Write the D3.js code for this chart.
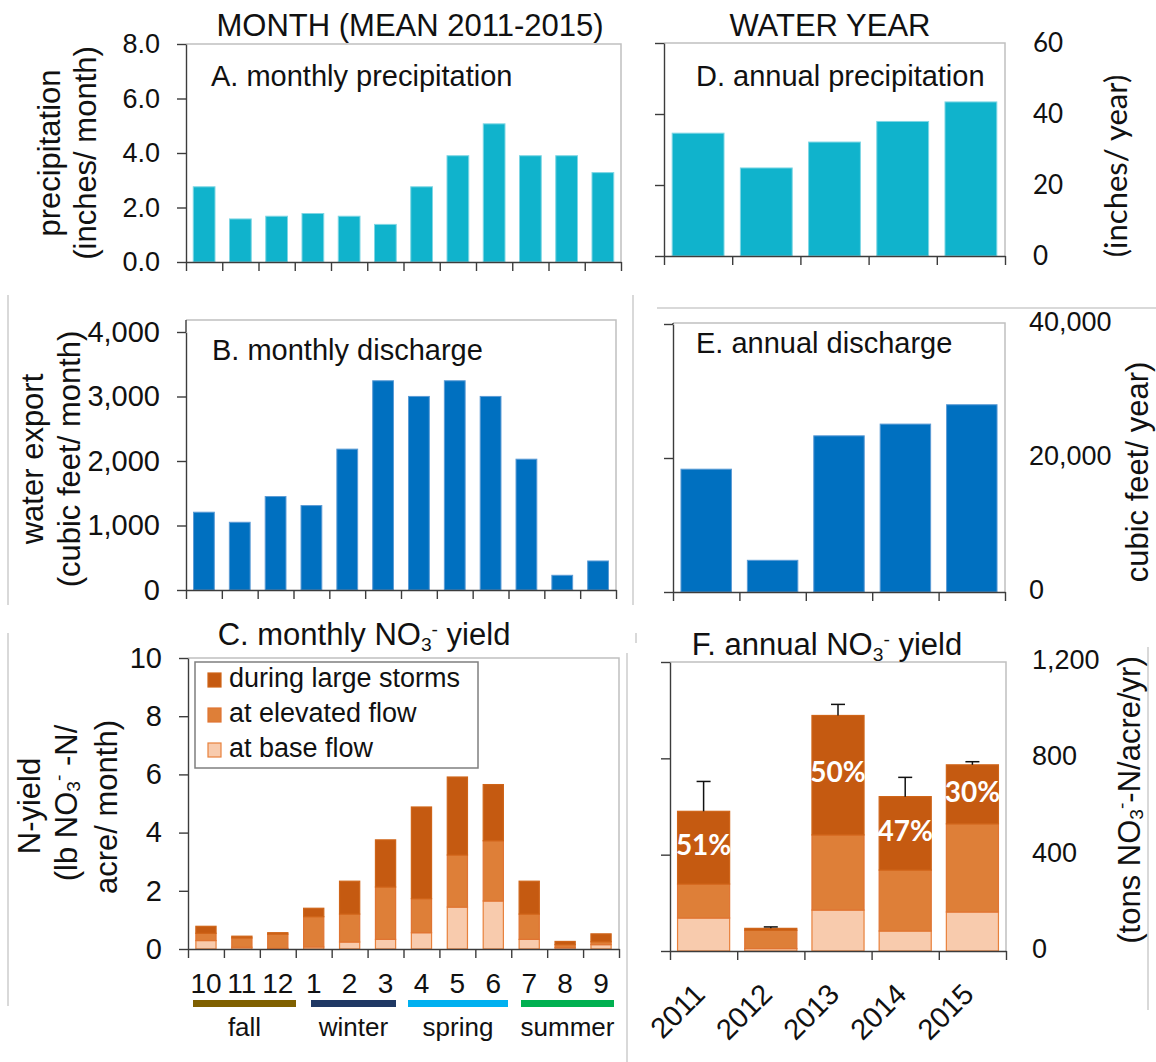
<!DOCTYPE html>
<html><head><meta charset="utf-8">
<script src="https://cdn.jsdelivr.net/npm/d3@7"></script>
<style>
body{margin:0;background:#fff}
svg{display:block}
text{font-family:"Liberation Sans",Arial,sans-serif;fill:#111}
</style>
</head><body>
<svg id="c" width="1156" height="1062"></svg>
<script>
// ---------- data ----------
const months = ["10","11","12","1","2","3","4","5","6","7","8","9"];
const monthlyPrecip = [2.76,1.58,1.68,1.78,1.68,1.38,2.76,3.90,5.07,3.90,3.90,3.28];
const monthlyDischarge = [1206,1050,1449,1309,2184,3244,3001,3244,3001,2028,228,450];
const monthlyBase = [0.29,0.06,0.02,0.07,0.24,0.33,0.56,1.44,1.65,0.33,0.05,0.15];
const monthlyElevated = [0.25,0.32,0.49,1.04,0.96,1.80,1.17,1.79,2.07,0.87,0.10,0.10];
const monthlyStorms = [0.24,0.06,0.05,0.29,1.13,1.62,3.15,2.68,1.93,1.13,0.11,0.27];
const seasons = ["fall","winter","spring","summer"];
const seasonColors = ["#7f6000","#1f3864","#00b0f0","#00b050"];
const years = ["2011","2012","2013","2014","2015"];
const annualPrecip = [34.6,24.8,32.1,37.9,43.4];
const annualDischarge = [18330,4730,23310,25060,27950];
const annualBase = [137,10,170,83,162];
const annualElevated = [141,76,312,253,366];
const annualStorms = [302,8,496,305,245];
const annualErrorTop = [704,100,1024,721,786];
const stormShare = ["51%","","50%","47%","30%"];
const seriesNames = ["during large storms","at elevated flow","at base flow"];
const stackColors = {base:"#f8cbad",elevated:"#de7f38",storms:"#c55a11"};
const ticksA = [0,2,4,6,8], ticksB=[0,1000,2000,3000,4000], ticksC=[0,2,4,6,8,10];
const ticksD = [0,20,40,60], ticksE=[0,20000,40000], ticksF=[0,400,800,1200];

const svg = d3.select("#c");
const AX = "#3c3c3c", FR = "#c0c0c0";

function makePanel(c){
  const x = d3.scaleBand().domain(c.cats).range([c.x0,c.x1]).paddingInner(c.pad).paddingOuter(c.pad/2);
  const y = d3.scaleLinear().domain([0,c.max]).range([c.y0,c.y1]);
  const g = svg.append("g");
  g.append("path").attr("d",`M${c.x0},${c.top}H${c.x1}V${c.y0}`)
    .attr("fill","none").attr("stroke",FR).attr("stroke-width",1.5);
  return {x,y,g};
}
function leftAxis(p,c,ticks,fmt,fs){
  const ax = d3.axisLeft(p.y).tickValues(ticks).tickSize(9).tickSizeOuter(0).tickPadding(c.tickPad||17)
    .tickFormat(fmt);
  const a = p.g.append("g").attr("transform",`translate(${c.x0},0)`).call(ax);
  a.selectAll("path,line").attr("stroke",AX).attr("stroke-width",1.4);
  a.selectAll("text").attr("font-size",fs).attr("fill","#111").style("font-family",'"Liberation Sans",Arial,sans-serif');
  if(c.top < c.y1){
    p.g.append("line").attr("x1",c.x0).attr("x2",c.x0).attr("y1",c.top).attr("y2",c.y1).attr("stroke",AX).attr("stroke-width",1.4);
  }
}
function bottomAxis(p,c){
  const n = c.cats.length;
  const xb = d3.scaleLinear().domain([0,n]).range([c.x0,c.x1]);
  const a = p.g.append("g").attr("transform",`translate(0,${c.y0})`)
    .call(d3.axisBottom(xb).tickValues(d3.range(n+1)).tickSize(c.tickLen||9).tickSizeOuter(0).tickFormat(""));
  a.selectAll("path,line").attr("stroke",AX).attr("stroke-width",1.4);
}
function bars(p,c,vals,fill,stroke){
  p.g.append("g").selectAll("rect").data(vals).join("rect")
    .attr("x",(d,i)=>p.x(c.cats[i])).attr("width",p.x.bandwidth())
    .attr("y",d=>p.y(d)).attr("height",d=>p.y(0)-p.y(d))
    .attr("fill",fill).attr("stroke",stroke).attr("stroke-width",1);
}
function rotText(x,y,str,fs,family){
  const t = svg.append("text").attr("transform",`translate(${x},${y}) rotate(-90)`)
    .attr("text-anchor","middle").attr("dominant-baseline","middle").attr("font-size",fs);
  if(family) t.style("font-family",family);
  return t;
}
function chemText(sel,pre,post,fs){
  sel.append("tspan").text(pre);
  sel.append("tspan").text("3").attr("font-size",fs*0.62).attr("dy",fs*0.2);
  sel.append("tspan").text("-").attr("font-size",fs*0.62).attr("dy",-fs*0.5);
  sel.append("tspan").text(post).attr("dy",fs*0.3);
}
function stacked(p,c,base,elev,storm){
  const rows = c.cats.map((k,i)=>({k,base:base[i],elevated:elev[i],storms:storm[i]}));
  const st = d3.stack().keys(["base","elevated","storms"])(rows);
  const strokes = {base:"#e8813c",elevated:"#e07432",storms:"#cf6418"};
  p.g.append("g").selectAll("g").data(st).join("g")
    .attr("fill",s=>stackColors[s.key]).attr("stroke",s=>strokes[s.key]).attr("stroke-width",1.2)
    .selectAll("rect").data(s=>s).join("rect")
    .attr("x",d=>p.x(d.data.k)+0.5).attr("width",p.x.bandwidth()-1)
    .attr("y",d=>p.y(d[1])).attr("height",d=>Math.max(0,p.y(d[0])-p.y(d[1])));
  return st;
}

// ---------- composite frame lines ----------
const gl = svg.append("g").attr("stroke","#cdcdcd").attr("stroke-width",1.5);
[[8,295,8,605],[8,633,8,1006],[633,295,633,605],[657,308,1156,308],[627,653,627,1062],[1148,647,1148,1010],[636,633,636,643]]
 .forEach(l=>gl.append("line").attr("x1",l[0]).attr("y1",l[1]).attr("x2",l[2]).attr("y2",l[3]));

// ---------- Panel A ----------
const cA = {cats:months,x0:186,x1:621,y0:262,y1:44,top:44,max:8,pad:0.4};
const pA = makePanel(cA);
bars(pA,cA,monthlyPrecip,"#10b3cc","#7fd6e4");
leftAxis(pA,cA,ticksA,d3.format(".1f"),27);
bottomAxis(pA,cA);
svg.append("text").attr("x",410).attr("y",36).attr("text-anchor","middle").attr("font-size",31).text("MONTH (MEAN 2011-2015)");
svg.append("text").attr("x",211).attr("y",86).attr("font-size",29).text("A. monthly precipitation");
rotText(52,153,"",31).text("precipitation");
rotText(88,153,"",31).text("(inches/ month)");

// ---------- Panel D ----------
const cD = {cats:years,x0:664,x1:1005,y0:256,y1:43,top:43,max:60,pad:0.24};
const pD = makePanel(cD);
bars(pD,cD,annualPrecip,"#10b3cc","#7fd6e4");
leftAxis(pD,cD,ticksD,()=>"",27);
bottomAxis(pD,cD);
pD.g.append("g").selectAll("text").data(ticksD).join("text")
  .attr("x",1033).attr("y",d=>pD.y(d)+2).attr("dominant-baseline","middle").attr("font-size",26)
  .style("font-family","Lato, 'Open Sans', sans-serif").text(d=>d);
svg.append("text").attr("x",830).attr("y",36).attr("text-anchor","middle").attr("font-size",31).text("WATER YEAR");
svg.append("text").attr("x",696).attr("y",86).attr("font-size",29).text("D. annual precipitation");
rotText(1119,166,"",31,"Lato, 'Open Sans', sans-serif").text("(inches/ year)");

// ---------- Panel B ----------
const cB = {cats:months,x0:186,x1:616,y0:590,y1:332,top:320,max:4000,pad:0.42};
const pB = makePanel(cB);
bars(pB,cB,monthlyDischarge,"#0070c0","#5b9bd5");
leftAxis(pB,cB,ticksB,d3.format(","),29);
bottomAxis(pB,cB);
svg.append("text").attr("x",212).attr("y",360).attr("font-size",29).text("B. monthly discharge");
rotText(35,459,"",31).text("water export");
rotText(72,459,"",31).text("(cubic feet/ month)");

// ---------- Panel E ----------
const cE = {cats:years,x0:673,x1:1005,y0:592,y1:324,top:323,max:40000,pad:0.24};
const pE = makePanel(cE);
bars(pE,cE,annualDischarge,"#0070c0","#5b9bd5");
leftAxis(pE,cE,ticksE,()=>"",27);
bottomAxis(pE,cE);
pE.g.append("g").selectAll("text").data(ticksE).join("text")
  .attr("x",1029).attr("y",d=>pE.y(d)).attr("dominant-baseline","middle").attr("font-size",27)
  .text(d=>d3.format(",")(d));
svg.append("text").attr("x",696).attr("y",353).attr("font-size",29).text("E. annual discharge");
rotText(1140,472,"",31).text("cubic feet/ year)");

// ---------- Panel C ----------
const cC = {cats:months,x0:188,x1:619,y0:949,y1:658,top:658,max:10,pad:0.41};
const pC = makePanel(cC);
stacked(pC,cC,monthlyBase,monthlyElevated,monthlyStorms);
leftAxis(pC,cC,ticksC,d3.format("d"),29);
bottomAxis(pC,cC);
chemText(svg.append("text").attr("x",364).attr("y",645).attr("text-anchor","middle").attr("font-size",31),"C. monthly NO"," yield",31);
rotText(32,806,"",31).text("N-yield");
chemText(rotText(69,803,"",31),"(lb NO"," -N/",31);
rotText(109,807,"",31).text("acre/ month)");
// legend
const lg = svg.append("g");
lg.append("rect").attr("x",195).attr("y",662).attr("width",283).attr("height",106)
  .attr("fill","#fff").attr("stroke","#7f7f7f").attr("stroke-width",1.5);
const legFill = [stackColors.storms,stackColors.elevated,stackColors.base];
const legStroke = ["#cf6418","#e07432","#e8813c"];
seriesNames.forEach((s,i)=>{
  const cy = 680 + i*35;
  lg.append("rect").attr("x",208).attr("y",cy-7).attr("width",13).attr("height",14)
    .attr("fill",legFill[i]).attr("stroke",legStroke[i]).attr("stroke-width",1.2);
  lg.append("text").attr("x",229).attr("y",cy).attr("dominant-baseline","middle").attr("font-size",27).text(s);
});
// month labels
svg.append("g").selectAll("text").data(months).join("text")
  .attr("x",d=>pC.x(d)+pC.x.bandwidth()/2).attr("y",986).attr("text-anchor","middle")
  .attr("dominant-baseline","middle").attr("font-size",28).text(d=>d);
// seasons
const segX = [[193,296],[311,396],[408,508],[521,614]];
seasons.forEach((s,i)=>{
  svg.append("rect").attr("x",segX[i][0]).attr("y",1000).attr("width",segX[i][1]-segX[i][0]).attr("height",7).attr("fill",seasonColors[i]);
  svg.append("text").attr("x",(segX[i][0]+segX[i][1])/2).attr("y",1036).attr("text-anchor","middle").attr("font-size",26).text(s);
});

// ---------- Panel F ----------
const cF = {cats:years,x0:670,x1:1006,y0:951,y1:662,top:662,max:1200,pad:0.21};
const pF = makePanel(cF);
const stF = stacked(pF,cF,annualBase,annualElevated,annualStorms);
leftAxis(pF,cF,ticksF,()=>"",27);
bottomAxis(pF,cF);
const totals = years.map((y,i)=>annualBase[i]+annualElevated[i]+annualStorms[i]);
const eg = pF.g.append("g").attr("stroke","#111").attr("stroke-width",1.5);
years.forEach((yr,i)=>{
  const cx = pF.x(yr)+pF.x.bandwidth()/2;
  eg.append("line").attr("x1",cx).attr("x2",cx).attr("y1",pF.y(totals[i])).attr("y2",pF.y(annualErrorTop[i]));
  eg.append("line").attr("x1",cx-7).attr("x2",cx+7).attr("y1",pF.y(annualErrorTop[i])).attr("y2",pF.y(annualErrorTop[i]));
});
const stormLayer = stF[2];
pF.g.append("g").selectAll("text").data(stormLayer).join("text")
  .attr("x",d=>pF.x(d.data.k)+pF.x.bandwidth()/2).attr("y",d=>pF.y((d[0]+d[1])/2))
  .attr("text-anchor","middle").attr("dominant-baseline","middle").attr("font-size",28)
  .attr("font-weight","bold").style("font-family","Lato, 'Open Sans', sans-serif").style("fill","#fff")
  .text((d,i)=>stormShare[i]);
pF.g.append("g").selectAll("text").data(ticksF).join("text")
  .attr("x",1032).attr("y",d=>pF.y(d)).attr("dominant-baseline","middle").attr("font-size",27)
  .text(d=>d3.format(",")(d));
chemText(svg.append("text").attr("x",827).attr("y",655).attr("text-anchor","middle").attr("font-size",31),"F. annual NO"," yield",31);
chemText(rotText(1132,800,"",31),"(tons NO","-N/acre/yr)",31);
pF.g.append("g").selectAll("text").data(years).join("text")
  .attr("transform",d=>`translate(${pF.x(d)+pF.x.bandwidth()/2+3},${996}) rotate(-45)`)
  .attr("text-anchor","end").attr("font-size",29).text(d=>d);
</script>
</body></html>
